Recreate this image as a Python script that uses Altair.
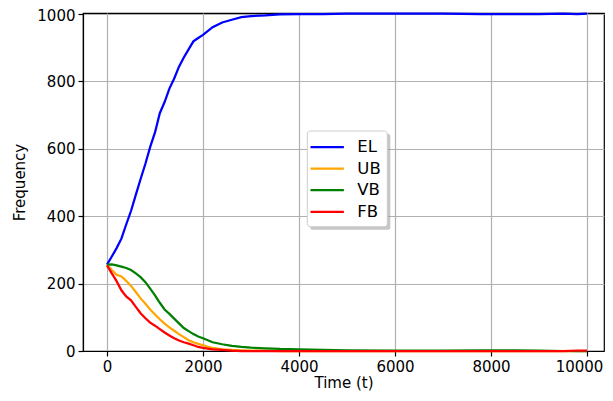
import altair as alt
import pandas as pd

# ---- data ----
time = [0, 100, 200, 300, 400, 500, 600, 700, 800, 900, 1000, 1100, 1200, 1300,
        1400, 1500, 1600, 1700, 1800, 1900, 2000, 2200, 2400, 2600, 2800, 3000,
        3300, 3600, 4000, 4500, 5000, 6000, 7000, 7800, 8500, 9000, 9500, 9800, 10000]

el = [256, 280, 305, 333, 375, 415, 463, 510, 555, 605, 648, 705, 738, 778,
      808, 843, 870, 894, 918, 928, 937, 960, 974, 982, 990, 993,
      995, 998, 999, 999, 1000, 1000, 1000, 999, 999, 999, 1000, 999, 1000]

ub = [256, 240, 226, 221, 208, 193, 175, 156, 140, 123, 108, 94, 81, 70,
      60, 50, 41, 32, 26, 21, 17, 9, 5, 3, 2, 1,
      1, 0, 0, 0, 0, 0, 0, 0, 0, 0, 0, 0, 0]

vb = [256, 257, 254, 250, 246, 240, 230, 219, 204, 185, 165, 143, 123, 110,
      96, 82, 68, 59, 50, 43, 38, 26, 20, 15, 12, 10,
      8, 6, 5, 3, 2, 1, 1, 2, 2, 1, 0, 0, 0]

fb = [254, 230, 207, 180, 162, 150, 131, 112, 97, 84, 75, 65, 55, 46,
      38, 31, 26, 22, 17, 12, 9, 5, 3, 1, 0, 0,
      0, 0, 0, 0, 0, 0, 0, 0, 0, 0, 0, 1, 1]

series_names = ["EL", "UB", "VB", "FB"]
series_colors = ["#0000ff", "#ffa500", "#008000", "#ff0000"]
x_ticks = [0, 2000, 4000, 6000, 8000, 10000]
y_ticks = [0, 200, 400, 600, 800, 1000]

rows = []
for name, vals in zip(series_names, [el, ub, vb, fb]):
    for t, v in zip(time, vals):
        rows.append({"t": t, "value": v, "series": name})
df = pd.DataFrame(rows)

FONT = "DejaVu Sans"
FS = 15

legend = alt.Legend(
    title=None, orient="none", legendX=229.7, legendY=124.5,
    symbolType="M-2,0H2", symbolSize=278, symbolStrokeWidth=2.25,
    symbolOffset=5, labelOffset=20.6, rowPadding=3.6, padding=0,
    labelFont=FONT, labelFontSize=16.5, labelColor="black",
)

color = alt.Color("series:N", scale=alt.Scale(domain=series_names, range=series_colors),
                  legend=legend)
x = alt.X("t:Q", scale=alt.Scale(domain=[-500, 10354], nice=False, zero=False),
          axis=alt.Axis(values=x_ticks, format="d", title="Time (t)", titlePadding=1,
                        labelOffset=alt.ConditionalAxisNumber(
                            condition={"test": "datum.value == 10000", "value": -8}, value=0)))
y = alt.Y("value:Q", scale=alt.Scale(domain=[0, 1002], nice=False),
          axis=alt.Axis(values=y_ticks, format="d", title="Frequency", titlePadding=9,
                        labelOffset=alt.ConditionalAxisNumber(
                            condition={"test": "datum.value == 1000", "value": 2}, value=0)))

layers = []
for name in series_names:
    layers.append(
        alt.Chart(df).transform_filter(alt.datum.series == name)
        .mark_line(strokeWidth=2.25, clip=False)
        .encode(x=x, y=y, color=color)
    )

one = alt.Data(values=[{"k": 1}])
shadow = alt.Chart(one).mark_rect(fill="#999999", opacity=0.55, cornerRadius=2).encode(
    x=alt.value(227.3), x2=alt.value(307.3), y=alt.value(121), y2=alt.value(216.7))
box = alt.Chart(one).mark_rect(fill="white", stroke="#cccccc", strokeWidth=1, cornerRadius=3).encode(
    x=alt.value(224.3), x2=alt.value(304.3), y=alt.value(118), y2=alt.value(213.7))

chart = alt.layer(*layers, shadow, box).properties(
    width=521, height=338,
    autosize=alt.AutoSizeParams(type="none"),
    padding={"left": 75, "top": 5, "right": 1, "bottom": 42},
).configure_view(
    stroke="black", strokeWidth=1.2
).configure_axis(
    domainColor="black", domainWidth=1.2, tickColor="black", tickSize=5, tickWidth=1.2,
    labelFont=FONT, labelFontSize=FS, labelColor="black", labelPadding=3,
    titleFont=FONT, titleFontSize=FS, titleFontWeight="normal", titleColor="black",
    gridColor="#b0b0b0", gridWidth=1.2,
)

chart.save("out.html", embed_options={"renderer": "svg", "actions": False})
